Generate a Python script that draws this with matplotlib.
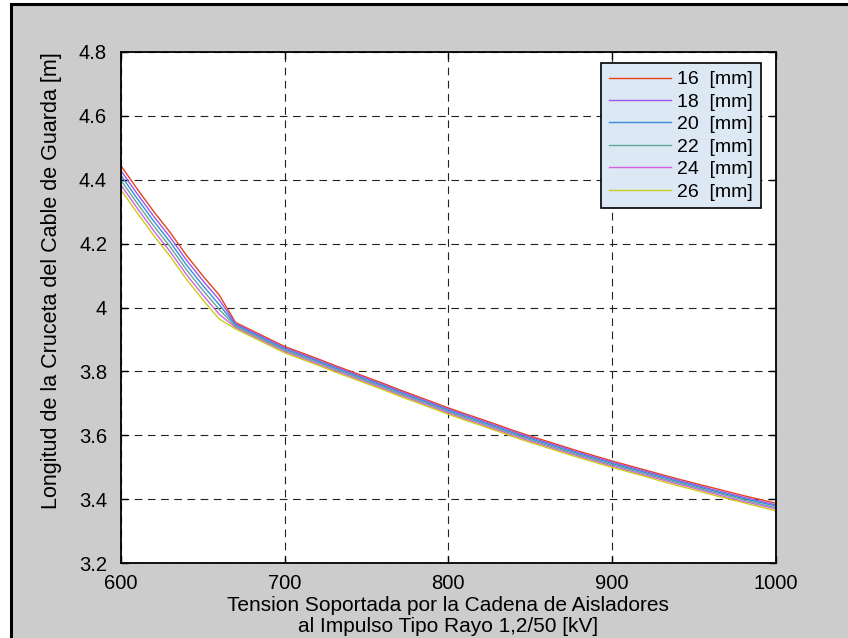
import matplotlib
matplotlib.use("Agg")
import matplotlib.pyplot as plt
from matplotlib.patches import Rectangle

plt.rcParams['font.family'] = ['Liberation Sans', 'DejaVu Sans']
plt.rcParams['lines.scale_dashes'] = False

# Withstand voltage of the insulator string (kV)
voltage_kv = [600, 610, 620, 630, 640, 650, 660, 670, 680, 690,
              700, 710, 720, 730, 740, 750, 760, 770, 780, 790,
              800, 810, 820, 830, 840, 850, 860, 870, 880, 890,
              900, 910, 920, 930, 940, 950, 960, 970, 980, 990, 1000]

# Guard-wire crossarm length (m), one list per conductor diameter
length_16mm = [4.443, 4.370, 4.300, 4.235, 4.163, 4.099, 4.039, 3.953, 3.928, 3.903,
               3.878, 3.859, 3.840, 3.820, 3.801, 3.782, 3.763, 3.743, 3.724, 3.705,
               3.686, 3.668, 3.651, 3.633, 3.615, 3.598, 3.582, 3.566, 3.550, 3.535,
               3.520, 3.506, 3.492, 3.478, 3.464, 3.451, 3.438, 3.425, 3.412, 3.400, 3.388]
length_18mm = [4.428, 4.355, 4.285, 4.220, 4.148, 4.084, 4.024, 3.949, 3.924, 3.899,
               3.874, 3.855, 3.836, 3.816, 3.797, 3.778, 3.759, 3.739, 3.720, 3.701,
               3.682, 3.664, 3.647, 3.629, 3.611, 3.594, 3.578, 3.562, 3.546, 3.531,
               3.516, 3.502, 3.488, 3.474, 3.460, 3.447, 3.433, 3.420, 3.407, 3.395, 3.383]
length_20mm = [4.413, 4.340, 4.270, 4.205, 4.133, 4.069, 4.009, 3.945, 3.920, 3.895,
               3.870, 3.851, 3.832, 3.812, 3.793, 3.774, 3.755, 3.735, 3.716, 3.697,
               3.678, 3.660, 3.643, 3.625, 3.607, 3.590, 3.574, 3.558, 3.542, 3.527,
               3.512, 3.498, 3.484, 3.470, 3.456, 3.443, 3.429, 3.416, 3.403, 3.391, 3.379]
length_22mm = [4.398, 4.325, 4.255, 4.190, 4.118, 4.054, 3.994, 3.941, 3.916, 3.891,
               3.866, 3.847, 3.828, 3.808, 3.789, 3.770, 3.751, 3.731, 3.712, 3.693,
               3.674, 3.656, 3.639, 3.621, 3.603, 3.586, 3.570, 3.554, 3.538, 3.523,
               3.508, 3.494, 3.480, 3.466, 3.452, 3.439, 3.425, 3.412, 3.399, 3.386, 3.374]
length_24mm = [4.383, 4.310, 4.240, 4.175, 4.103, 4.039, 3.979, 3.937, 3.912, 3.887,
               3.862, 3.843, 3.824, 3.804, 3.785, 3.766, 3.747, 3.727, 3.708, 3.689,
               3.670, 3.652, 3.635, 3.617, 3.599, 3.582, 3.566, 3.550, 3.534, 3.519,
               3.504, 3.490, 3.476, 3.462, 3.448, 3.435, 3.421, 3.407, 3.394, 3.382, 3.370]
length_26mm = [4.368, 4.295, 4.225, 4.160, 4.088, 4.024, 3.964, 3.933, 3.908, 3.883,
               3.858, 3.839, 3.820, 3.800, 3.781, 3.762, 3.743, 3.723, 3.704, 3.685,
               3.666, 3.648, 3.631, 3.613, 3.595, 3.578, 3.562, 3.546, 3.530, 3.515,
               3.500, 3.486, 3.472, 3.457, 3.443, 3.430, 3.416, 3.403, 3.390, 3.377, 3.364]

series_labels = ["16  [mm]", "18  [mm]", "20  [mm]", "22  [mm]", "24  [mm]", "26  [mm]"]
series_values = [length_16mm, length_18mm, length_20mm, length_22mm, length_24mm, length_26mm]
series_colors = ["#e8401c", "#9b55ee", "#3a8ad6", "#5fa898", "#d462e0", "#cccc1a"]

x_ticks = [600, 700, 800, 900, 1000]
x_tick_labels = ["600", "700", "800", "900", "1000"]
y_ticks = [3.2, 3.4, 3.6, 3.8, 4.0, 4.2, 4.4, 4.6, 4.8]
y_tick_labels = ["3.2", "3.4", "3.6", "3.8", "4", "4.2", "4.4", "4.6", "4.8"]

W, H = 848, 638
fig = plt.figure(figsize=(W / 100, H / 100), dpi=100, facecolor="white")

# grey window panel with a black frame on its top and left edges
fig.add_artist(Rectangle((11 / W, -0.1), 1.2, 1.1 - 4 / H, transform=fig.transFigure,
                         facecolor="#cccccc", edgecolor="black", linewidth=2.2, zorder=-10))

ax = fig.add_axes([121 / W, 1 - 563.3 / H, (775.7 - 121) / W, (563.3 - 51.7) / H])
ax.set_facecolor("white")

for vals, lab, col in zip(series_values, series_labels, series_colors):
    ax.plot(voltage_kv, vals, color=col, linewidth=1.0, label=lab)

ax.set_xlim(600, 1000)
ax.set_ylim(3.2, 4.8)
ax.set_xticks(x_ticks)
ax.set_xticklabels(x_tick_labels)
ax.set_yticks(y_ticks)
ax.set_yticklabels(y_tick_labels)
ax.tick_params(direction="in", length=5, width=1, top=True, right=True,
               labelsize=14.5, colors="black")
ax.tick_params(axis="x", pad=8)
ax.tick_params(axis="y", pad=10)
for s in ax.spines.values():
    s.set_linewidth(1.3)
ax.grid(True, color="#222222", linestyle=(0, (5.5, 4)), linewidth=0.8)

ax.set_xlabel("Tension Soportada por la Cadena de Aisladores\nal Impulso Tipo Rayo 1,2/50 [kV]",
              fontsize=15, linespacing=1.12, labelpad=2)
ax.set_ylabel("Longitud de la Cruceta del Cable de Guarda [m]", fontsize=15.5)
ax.yaxis.set_label_coords((62 - 121) / (775.7 - 121), (563.3 - 281) / (563.3 - 51.7))

leg = ax.legend(loc="upper right", bbox_to_anchor=(0.9775, 0.978), fontsize=14,
                frameon=True, fancybox=False, framealpha=1, edgecolor="black",
                facecolor="#dde8f5", handlelength=3.2, handletextpad=0.3,
                labelspacing=0.25, borderpad=0.4, borderaxespad=0)
leg.get_frame().set_linewidth(1.2)

fig.savefig("out.png", dpi=100, facecolor=fig.get_facecolor())
